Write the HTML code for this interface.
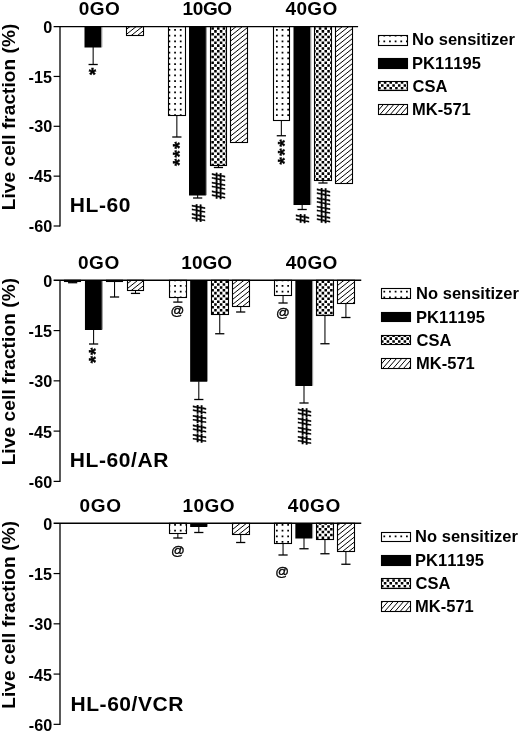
<!DOCTYPE html>
<html><head><meta charset="utf-8"><title>chart</title>
<style>
html,body{margin:0;padding:0;background:#fff;}
svg{display:block;filter:grayscale(1) blur(0.4px);}
text{font-family:"Liberation Sans",sans-serif;fill:#000;font-kerning:none;white-space:pre;}
.b{font-weight:bold;}
.s{stroke:#000;stroke-width:0.35px;}
</style></head><body>
<svg width="520" height="732" viewBox="0 0 520 732">
<defs>
<clipPath id="cd"><rect x="168.5" y="26.6" width="17" height="88.9"/><rect x="273.5" y="26.6" width="16" height="93.9"/><rect x="378.5" y="35.5" width="29" height="10"/><rect x="64.5" y="280.3" width="16" height="1.2"/><rect x="169.5" y="280.3" width="17" height="17.2"/><rect x="274.5" y="280.3" width="17" height="15.2"/><rect x="381.5" y="288.5" width="29" height="10"/><rect x="169.5" y="523.3" width="17" height="10.2"/><rect x="274.5" y="523.3" width="17" height="20.2"/><rect x="381.5" y="532.5" width="29" height="9"/></clipPath>
<clipPath id="cc"><rect x="210.5" y="26.6" width="16" height="138.9"/><rect x="314.5" y="26.6" width="17" height="153.9"/><rect x="378.5" y="81.5" width="29" height="9"/><rect x="106.5" y="280.3" width="16" height="1.2"/><rect x="211.5" y="280.3" width="17" height="34.2"/><rect x="316.5" y="280.3" width="17" height="35.2"/><rect x="381.5" y="335.5" width="29" height="9"/><rect x="316.5" y="523.3" width="17" height="16.2"/><rect x="381.5" y="578.5" width="29" height="10"/></clipPath>
<clipPath id="ch"><rect x="126.5" y="26.6" width="17" height="8.9"/><rect x="230.5" y="26.6" width="17" height="115.9"/><rect x="335.5" y="26.6" width="17" height="156.9"/><rect x="127.5" y="280.3" width="16" height="10.2"/><rect x="232.5" y="280.3" width="17" height="26.2"/><rect x="337.5" y="280.3" width="17" height="23.2"/><rect x="232.5" y="523.3" width="17" height="11.2"/><rect x="337.5" y="523.3" width="17" height="28.2"/></clipPath>
<clipPath id="cl"><rect x="378.5" y="104.5" width="29" height="10"/><rect x="381.5" y="358.5" width="29" height="10"/><rect x="381.5" y="601.5" width="29" height="10"/></clipPath>
</defs>
<rect width="520" height="732" fill="#fff"/>

<text x="43.15" y="32.65" font-size="16.2" class="b">0</text>
<path d="M53.6,76.45 H60" stroke="#000" stroke-width="1.2" fill="none"/>
<text x="28.54" y="82.5" font-size="16.2" class="b">-15</text>
<path d="M53.6,126.3 H60" stroke="#000" stroke-width="1.2" fill="none"/>
<text x="28.75" y="132.35" font-size="16.2" class="b">-30</text>
<path d="M53.6,176.15 H60" stroke="#000" stroke-width="1.2" fill="none"/>
<text x="28.54" y="182.2" font-size="16.2" class="b">-45</text>
<path d="M53.6,226 H60" stroke="#000" stroke-width="1.2" fill="none"/>
<text x="28.75" y="232.05" font-size="16.2" class="b">-60</text>
<text transform="translate(15.3 210.17) rotate(-90)" font-size="19" class="b" letter-spacing="0.08">Live cell fraction (%)</text>
<text x="78.75" y="15.3" font-size="19" class="b" letter-spacing="0.46">0GO</text>
<text x="182.55" y="15.3" font-size="19" class="b" letter-spacing="-0.4">10GO</text>
<text x="285.51" y="15.3" font-size="19" class="b" letter-spacing="0.36">40GO</text>
<text x="69.85" y="212" font-size="21" class="b" letter-spacing="0.54">HL-60</text>
<path d="M93.15,47V64.5" stroke="#000" stroke-width="1.05" fill="none"/><path d="M88.55,64.5H97.75" stroke="#000" stroke-width="1.3" fill="none"/>
<path d="M176.85,115V137" stroke="#000" stroke-width="1.05" fill="none"/><path d="M172.25,137H181.45" stroke="#000" stroke-width="1.3" fill="none"/>
<path d="M197.65,195V198" stroke="#000" stroke-width="1.05" fill="none"/><path d="M193.05,198H202.25" stroke="#000" stroke-width="1.3" fill="none"/>
<path d="M218.45,165V167.5" stroke="#000" stroke-width="1.05" fill="none"/><path d="M213.85,167.5H223.05" stroke="#000" stroke-width="1.3" fill="none"/>
<path d="M281.35,120.5V135.75" stroke="#000" stroke-width="1.05" fill="none"/><path d="M276.75,135.75H285.95" stroke="#000" stroke-width="1.3" fill="none"/>
<path d="M302.15,204.5V209.5" stroke="#000" stroke-width="1.05" fill="none"/><path d="M297.55,209.5H306.75" stroke="#000" stroke-width="1.3" fill="none"/>
<path d="M322.95,180.5V183" stroke="#000" stroke-width="1.05" fill="none"/><path d="M318.35,183H327.55" stroke="#000" stroke-width="1.3" fill="none"/>
<text x="88.78" y="80.84" font-size="19" class="b s">*</text>
<text transform="translate(185.84 166.06) rotate(-90)" font-size="19" class="b s" letter-spacing="1.1">***</text>
<text transform="translate(205.04 222.09) rotate(-90) scale(1 1.13)" font-size="17" class="b s" letter-spacing="-0.84">##</text>
<text transform="translate(224.74 199.19) rotate(-90) scale(1 1.13)" font-size="17" class="b s" letter-spacing="-0.8">###</text>
<text transform="translate(290.54 164.56) rotate(-90)" font-size="19" class="b s" letter-spacing="1.45">***</text>
<text transform="translate(309.04 223.29) rotate(-90) scale(1 1.13)" font-size="17" class="b s">#</text>
<text transform="translate(330.04 223.29) rotate(-90) scale(1 1.13)" font-size="17" class="b s" letter-spacing="-0.75">####</text>
<text x="412.1" y="45.4" font-size="16.5" class="b" letter-spacing="0.01">No sensitizer</text>
<text x="412.1" y="68.5" font-size="16.5" class="b">PK11195</text>
<text x="412.52" y="91.5" font-size="16.5" class="b">CSA</text>
<text x="412.1" y="114.6" font-size="16.5" class="b">MK-571</text>
<text x="43.15" y="286.85" font-size="16.2" class="b">0</text>
<path d="M53.6,330.57 H60" stroke="#000" stroke-width="1.2" fill="none"/>
<text x="28.54" y="337.12" font-size="16.2" class="b">-15</text>
<path d="M53.6,380.84 H60" stroke="#000" stroke-width="1.2" fill="none"/>
<text x="28.75" y="387.39" font-size="16.2" class="b">-30</text>
<path d="M53.6,431.11 H60" stroke="#000" stroke-width="1.2" fill="none"/>
<text x="28.54" y="437.66" font-size="16.2" class="b">-45</text>
<path d="M53.6,481.38 H60" stroke="#000" stroke-width="1.2" fill="none"/>
<text x="28.75" y="487.93" font-size="16.2" class="b">-60</text>
<text transform="translate(15.4 465.37) rotate(-90)" font-size="19" class="b" letter-spacing="0.13">Live cell fraction (%)</text>
<text x="77.9" y="269" font-size="19" class="b" letter-spacing="0.64">0GO</text>
<text x="181.3" y="269" font-size="19" class="b" letter-spacing="0.02">10GO</text>
<text x="285.71" y="269" font-size="19" class="b" letter-spacing="0.3">40GO</text>
<text x="69.85" y="467" font-size="21" class="b" letter-spacing="0.58">HL-60/AR</text>
<path d="M72.65,281.6V282.7" stroke="#000" stroke-width="1.05" fill="none"/><path d="M68.05,282.7H77.25" stroke="#000" stroke-width="1.3" fill="none"/>
<path d="M93.6,329.5V344" stroke="#000" stroke-width="1.05" fill="none"/><path d="M89,344H98.2" stroke="#000" stroke-width="1.3" fill="none"/>
<path d="M114.55,281.6V297" stroke="#000" stroke-width="1.05" fill="none"/><path d="M109.95,297H119.15" stroke="#000" stroke-width="1.3" fill="none"/>
<path d="M135.5,290.2V293.4" stroke="#000" stroke-width="1.05" fill="none"/><path d="M130.9,293.4H140.1" stroke="#000" stroke-width="1.3" fill="none"/>
<path d="M177.85,297.9V302.1" stroke="#000" stroke-width="1.05" fill="none"/><path d="M173.25,302.1H182.45" stroke="#000" stroke-width="1.3" fill="none"/>
<path d="M198.8,381.25V399.5" stroke="#000" stroke-width="1.05" fill="none"/><path d="M194.2,399.5H203.4" stroke="#000" stroke-width="1.3" fill="none"/>
<path d="M219.75,314.5V333.75" stroke="#000" stroke-width="1.05" fill="none"/><path d="M215.15,333.75H224.35" stroke="#000" stroke-width="1.3" fill="none"/>
<path d="M240.7,306.25V312" stroke="#000" stroke-width="1.05" fill="none"/><path d="M236.1,312H245.3" stroke="#000" stroke-width="1.3" fill="none"/>
<path d="M283.05,295V303" stroke="#000" stroke-width="1.05" fill="none"/><path d="M278.45,303H287.65" stroke="#000" stroke-width="1.3" fill="none"/>
<path d="M304,385.5V403" stroke="#000" stroke-width="1.05" fill="none"/><path d="M299.4,403H308.6" stroke="#000" stroke-width="1.3" fill="none"/>
<path d="M324.95,315.5V343.75" stroke="#000" stroke-width="1.05" fill="none"/><path d="M320.35,343.75H329.55" stroke="#000" stroke-width="1.3" fill="none"/>
<path d="M345.9,303.75V317.5" stroke="#000" stroke-width="1.05" fill="none"/><path d="M341.3,317.5H350.5" stroke="#000" stroke-width="1.3" fill="none"/>
<text transform="translate(101.54 363.26) rotate(-90)" font-size="19" class="b s" letter-spacing="0.79">**</text>
<text x="170.45" y="315.09" font-size="13.6" class="s">@</text>
<text x="275.95" y="317.29" font-size="13.6" class="s">@</text>
<text transform="translate(206.14 442.79) rotate(-90) scale(1 1.13)" font-size="17" class="b s" letter-spacing="0.08">####</text>
<text transform="translate(311.14 444.79) rotate(-90) scale(1 1.13)" font-size="17" class="b s" letter-spacing="-0.25">####</text>
<text x="416.1" y="299.4" font-size="16.5" class="b" letter-spacing="0.01">No sensitizer</text>
<text x="416.1" y="322.6" font-size="16.5" class="b">PK11195</text>
<text x="416.52" y="345.7" font-size="16.5" class="b">CSA</text>
<text x="416.1" y="369" font-size="16.5" class="b">MK-571</text>
<text x="43.15" y="529.9" font-size="16.2" class="b">0</text>
<path d="M53.6,573.56 H60" stroke="#000" stroke-width="1.2" fill="none"/>
<text x="28.54" y="580.16" font-size="16.2" class="b">-15</text>
<path d="M53.6,623.82 H60" stroke="#000" stroke-width="1.2" fill="none"/>
<text x="28.75" y="630.42" font-size="16.2" class="b">-30</text>
<path d="M53.6,674.08 H60" stroke="#000" stroke-width="1.2" fill="none"/>
<text x="28.54" y="680.68" font-size="16.2" class="b">-45</text>
<path d="M53.6,724.34 H60" stroke="#000" stroke-width="1.2" fill="none"/>
<text x="28.75" y="730.94" font-size="16.2" class="b">-60</text>
<text transform="translate(15.2 708.87) rotate(-90)" font-size="19" class="b" letter-spacing="0.15">Live cell fraction (%)</text>
<text x="79.4" y="511.8" font-size="19" class="b" letter-spacing="0.74">0GO</text>
<text x="182.55" y="511.8" font-size="19" class="b" letter-spacing="0.43">10GO</text>
<text x="287.71" y="511.8" font-size="19" class="b" letter-spacing="0.63">40GO</text>
<text x="70.5" y="710.5" font-size="21" class="b" letter-spacing="0.55">HL-60/VCR</text>
<path d="M177.85,533.75V538" stroke="#000" stroke-width="1.05" fill="none"/><path d="M173.25,538H182.45" stroke="#000" stroke-width="1.3" fill="none"/>
<path d="M198.8,526.5V532.5" stroke="#000" stroke-width="1.05" fill="none"/><path d="M194.2,532.5H203.4" stroke="#000" stroke-width="1.3" fill="none"/>
<path d="M240.7,534.5V542.5" stroke="#000" stroke-width="1.05" fill="none"/><path d="M236.1,542.5H245.3" stroke="#000" stroke-width="1.3" fill="none"/>
<path d="M283.05,543V555" stroke="#000" stroke-width="1.05" fill="none"/><path d="M278.45,555H287.65" stroke="#000" stroke-width="1.3" fill="none"/>
<path d="M304,538V548.75" stroke="#000" stroke-width="1.05" fill="none"/><path d="M299.4,548.75H308.6" stroke="#000" stroke-width="1.3" fill="none"/>
<path d="M324.95,539.5V553.75" stroke="#000" stroke-width="1.05" fill="none"/><path d="M320.35,553.75H329.55" stroke="#000" stroke-width="1.3" fill="none"/>
<path d="M345.9,551.25V564.25" stroke="#000" stroke-width="1.05" fill="none"/><path d="M341.3,564.25H350.5" stroke="#000" stroke-width="1.3" fill="none"/>
<text x="171.05" y="554.89" font-size="13.6" class="s">@</text>
<text x="275.25" y="576.19" font-size="13.6" class="s">@</text>
<text x="415.1" y="542.4" font-size="16.5" class="b" letter-spacing="0.01">No sensitizer</text>
<text x="415.1" y="565.5" font-size="16.5" class="b">PK11195</text>
<text x="415.52" y="588.5" font-size="16.5" class="b">CSA</text>
<text x="415.1" y="611.6" font-size="16.5" class="b">MK-571</text>
<rect x="84.5" y="26.6" width="16.9" height="20.9" fill="#000"/>
<rect x="189" y="26.6" width="16.9" height="168.9" fill="#000"/>
<rect x="293.5" y="26.6" width="16.9" height="178.4" fill="#000"/>
<rect x="378.5" y="58.5" width="29" height="10" fill="#000"/>
<rect x="84.95" y="280.3" width="16.9" height="49.7" fill="#000"/>
<rect x="190.15" y="280.3" width="16.9" height="101.45" fill="#000"/>
<rect x="295.35" y="280.3" width="16.9" height="105.7" fill="#000"/>
<rect x="381.5" y="312.5" width="29" height="9" fill="#000"/>
<rect x="190.15" y="523.3" width="16.9" height="3.7" fill="#000"/>
<rect x="295.35" y="523.3" width="16.9" height="15.2" fill="#000"/>
<rect x="381.5" y="555.5" width="29" height="10" fill="#000"/>
<g clip-path="url(#cd)"><path d="M56.3,0.57V732M61.95,0.57V732M67.61,0.57V732M73.26,0.57V732M78.92,0.57V732M84.57,0.57V732M90.23,0.57V732M95.88,0.57V732M101.54,0.57V732M107.19,0.57V732M112.85,0.57V732M118.5,0.57V732M124.16,0.57V732M129.81,0.57V732M135.47,0.57V732M141.12,0.57V732M146.78,0.57V732M152.43,0.57V732M158.09,0.57V732M163.74,0.57V732M169.4,0.57V732M175.05,0.57V732M180.71,0.57V732M186.36,0.57V732M192.02,0.57V732M197.67,0.57V732M203.33,0.57V732M208.98,0.57V732M214.64,0.57V732M220.29,0.57V732M225.95,0.57V732M231.6,0.57V732M237.26,0.57V732M242.91,0.57V732M248.57,0.57V732M254.22,0.57V732M259.88,0.57V732M265.53,0.57V732M271.19,0.57V732M276.84,0.57V732M282.5,0.57V732M288.15,0.57V732M293.81,0.57V732M299.46,0.57V732M305.12,0.57V732M310.77,0.57V732M316.43,0.57V732M322.08,0.57V732M327.74,0.57V732M333.39,0.57V732M339.05,0.57V732M344.7,0.57V732M350.36,0.57V732M356.01,0.57V732M361.67,0.57V732M367.32,0.57V732M372.97,0.57V732M378.63,0.57V732M384.28,0.57V732M389.94,0.57V732M395.59,0.57V732M401.25,0.57V732M406.9,0.57V732M412.56,0.57V732M418.21,0.57V732" stroke="#000" stroke-width="1.75" stroke-dasharray="1.75 3.94" fill="none"/></g>
<g clip-path="url(#cc)"><path d="M59.93,-1.19V732M62.76,1.65V732M65.59,-1.19V732M68.42,1.65V732M71.24,-1.19V732M74.07,1.65V732M76.9,-1.19V732M79.73,1.65V732M82.55,-1.19V732M85.38,1.65V732M88.21,-1.19V732M91.04,1.65V732M93.86,-1.19V732M96.69,1.65V732M99.52,-1.19V732M102.35,1.65V732M105.17,-1.19V732M108,1.65V732M110.83,-1.19V732M113.66,1.65V732M116.48,-1.19V732M119.31,1.65V732M122.14,-1.19V732M124.97,1.65V732M127.79,-1.19V732M130.62,1.65V732M133.45,-1.19V732M136.28,1.65V732M139.1,-1.19V732M141.93,1.65V732M144.76,-1.19V732M147.59,1.65V732M150.41,-1.19V732M153.24,1.65V732M156.07,-1.19V732M158.9,1.65V732M161.72,-1.19V732M164.55,1.65V732M167.38,-1.19V732M170.21,1.65V732M173.03,-1.19V732M175.86,1.65V732M178.69,-1.19V732M181.52,1.65V732M184.34,-1.19V732M187.17,1.65V732M190,-1.19V732M192.83,1.65V732M195.65,-1.19V732M198.48,1.65V732M201.31,-1.19V732M204.14,1.65V732M206.96,-1.19V732M209.79,1.65V732M212.62,-1.19V732M215.45,1.65V732M218.27,-1.19V732M221.1,1.65V732M223.93,-1.19V732M226.76,1.65V732M229.58,-1.19V732M232.41,1.65V732M235.24,-1.19V732M238.07,1.65V732M240.89,-1.19V732M243.72,1.65V732M246.55,-1.19V732M249.38,1.65V732M252.2,-1.19V732M255.03,1.65V732M257.86,-1.19V732M260.69,1.65V732M263.51,-1.19V732M266.34,1.65V732M269.17,-1.19V732M272,1.65V732M274.82,-1.19V732M277.65,1.65V732M280.48,-1.19V732M283.31,1.65V732M286.13,-1.19V732M288.96,1.65V732M291.79,-1.19V732M294.62,1.65V732M297.44,-1.19V732M300.27,1.65V732M303.1,-1.19V732M305.93,1.65V732M308.75,-1.19V732M311.58,1.65V732M314.41,-1.19V732M317.24,1.65V732M320.06,-1.19V732M322.89,1.65V732M325.72,-1.19V732M328.55,1.65V732M331.37,-1.19V732M334.2,1.65V732M337.03,-1.19V732M339.86,1.65V732M342.68,-1.19V732M345.51,1.65V732M348.34,-1.19V732M351.17,1.65V732M353.99,-1.19V732M356.82,1.65V732M359.65,-1.19V732M362.48,1.65V732M365.3,-1.19V732M368.13,1.65V732M370.96,-1.19V732M373.79,1.65V732M376.61,-1.19V732M379.44,1.65V732M382.27,-1.19V732M385.1,1.65V732M387.92,-1.19V732M390.75,1.65V732M393.58,-1.19V732M396.41,1.65V732M399.23,-1.19V732M402.06,1.65V732M404.89,-1.19V732M407.72,1.65V732M410.54,-1.19V732M413.37,1.65V732M416.2,-1.19V732M419.03,1.65V732" stroke="#000" stroke-width="2.55" stroke-dasharray="2.55 3.14" fill="none"/></g>
<g clip-path="url(#ch)"><path d="M60,-7.5L415,-291.5M60,-2.5L415,-286.5M60,2.5L415,-281.5M60,7.5L415,-276.5M60,12.5L415,-271.5M60,17.5L415,-266.5M60,22.5L415,-261.5M60,27.5L415,-256.5M60,32.5L415,-251.5M60,37.5L415,-246.5M60,42.5L415,-241.5M60,47.5L415,-236.5M60,52.5L415,-231.5M60,57.5L415,-226.5M60,62.5L415,-221.5M60,67.5L415,-216.5M60,72.5L415,-211.5M60,77.5L415,-206.5M60,82.5L415,-201.5M60,87.5L415,-196.5M60,92.5L415,-191.5M60,97.5L415,-186.5M60,102.5L415,-181.5M60,107.5L415,-176.5M60,112.5L415,-171.5M60,117.5L415,-166.5M60,122.5L415,-161.5M60,127.5L415,-156.5M60,132.5L415,-151.5M60,137.5L415,-146.5M60,142.5L415,-141.5M60,147.5L415,-136.5M60,152.5L415,-131.5M60,157.5L415,-126.5M60,162.5L415,-121.5M60,167.5L415,-116.5M60,172.5L415,-111.5M60,177.5L415,-106.5M60,182.5L415,-101.5M60,187.5L415,-96.5M60,192.5L415,-91.5M60,197.5L415,-86.5M60,202.5L415,-81.5M60,207.5L415,-76.5M60,212.5L415,-71.5M60,217.5L415,-66.5M60,222.5L415,-61.5M60,227.5L415,-56.5M60,232.5L415,-51.5M60,237.5L415,-46.5M60,242.5L415,-41.5M60,247.5L415,-36.5M60,252.5L415,-31.5M60,257.5L415,-26.5M60,262.5L415,-21.5M60,267.5L415,-16.5M60,272.5L415,-11.5M60,277.5L415,-6.5M60,282.5L415,-1.5M60,287.5L415,3.5M60,292.5L415,8.5M60,297.5L415,13.5M60,302.5L415,18.5M60,307.5L415,23.5M60,312.5L415,28.5M60,317.5L415,33.5M60,322.5L415,38.5M60,327.5L415,43.5M60,332.5L415,48.5M60,337.5L415,53.5M60,342.5L415,58.5M60,347.5L415,63.5M60,352.5L415,68.5M60,357.5L415,73.5M60,362.5L415,78.5M60,367.5L415,83.5M60,372.5L415,88.5M60,377.5L415,93.5M60,382.5L415,98.5M60,387.5L415,103.5M60,392.5L415,108.5M60,397.5L415,113.5M60,402.5L415,118.5M60,407.5L415,123.5M60,412.5L415,128.5M60,417.5L415,133.5M60,422.5L415,138.5M60,427.5L415,143.5M60,432.5L415,148.5M60,437.5L415,153.5M60,442.5L415,158.5M60,447.5L415,163.5M60,452.5L415,168.5M60,457.5L415,173.5M60,462.5L415,178.5M60,467.5L415,183.5M60,472.5L415,188.5M60,477.5L415,193.5M60,482.5L415,198.5M60,487.5L415,203.5M60,492.5L415,208.5M60,497.5L415,213.5M60,502.5L415,218.5M60,507.5L415,223.5M60,512.5L415,228.5M60,517.5L415,233.5M60,522.5L415,238.5M60,527.5L415,243.5M60,532.5L415,248.5M60,537.5L415,253.5M60,542.5L415,258.5M60,547.5L415,263.5M60,552.5L415,268.5M60,557.5L415,273.5M60,562.5L415,278.5M60,567.5L415,283.5M60,572.5L415,288.5M60,577.5L415,293.5M60,582.5L415,298.5M60,587.5L415,303.5M60,592.5L415,308.5M60,597.5L415,313.5M60,602.5L415,318.5M60,607.5L415,323.5M60,612.5L415,328.5M60,617.5L415,333.5M60,622.5L415,338.5M60,627.5L415,343.5M60,632.5L415,348.5M60,637.5L415,353.5M60,642.5L415,358.5M60,647.5L415,363.5M60,652.5L415,368.5M60,657.5L415,373.5M60,662.5L415,378.5M60,667.5L415,383.5M60,672.5L415,388.5M60,677.5L415,393.5M60,682.5L415,398.5M60,687.5L415,403.5M60,692.5L415,408.5M60,697.5L415,413.5M60,702.5L415,418.5M60,707.5L415,423.5M60,712.5L415,428.5M60,717.5L415,433.5M60,722.5L415,438.5M60,727.5L415,443.5M60,732.5L415,448.5M60,737.5L415,453.5M60,742.5L415,458.5M60,747.5L415,463.5M60,752.5L415,468.5M60,757.5L415,473.5M60,762.5L415,478.5M60,767.5L415,483.5M60,772.5L415,488.5M60,777.5L415,493.5M60,782.5L415,498.5M60,787.5L415,503.5M60,792.5L415,508.5M60,797.5L415,513.5M60,802.5L415,518.5M60,807.5L415,523.5M60,812.5L415,528.5M60,817.5L415,533.5M60,822.5L415,538.5M60,827.5L415,543.5M60,832.5L415,548.5M60,837.5L415,553.5M60,842.5L415,558.5M60,847.5L415,563.5M60,852.5L415,568.5M60,857.5L415,573.5M60,862.5L415,578.5M60,867.5L415,583.5M60,872.5L415,588.5M60,877.5L415,593.5M60,882.5L415,598.5M60,887.5L415,603.5M60,892.5L415,608.5M60,897.5L415,613.5M60,902.5L415,618.5M60,907.5L415,623.5M60,912.5L415,628.5M60,917.5L415,633.5M60,922.5L415,638.5M60,927.5L415,643.5M60,932.5L415,648.5M60,937.5L415,653.5M60,942.5L415,658.5M60,947.5L415,663.5M60,952.5L415,668.5M60,957.5L415,673.5M60,962.5L415,678.5M60,967.5L415,683.5M60,972.5L415,688.5M60,977.5L415,693.5M60,982.5L415,698.5M60,987.5L415,703.5M60,992.5L415,708.5M60,997.5L415,713.5M60,1002.5L415,718.5M60,1007.5L415,723.5M60,1012.5L415,728.5M60,1017.5L415,733.5" stroke="#000" stroke-width="1" fill="none"/></g>
<g clip-path="url(#cl)"><path d="M377.5,105.31L408.5,69.66M377.5,111.3L408.5,75.64M377.5,117.28L408.5,81.62M377.5,123.26L408.5,87.61M377.5,129.24L408.5,93.59M377.5,135.21L408.5,99.56M377.5,141.19L408.5,105.54M377.5,147.18L408.5,111.52M377.5,153.16L408.5,117.5M380.5,359L411.5,323.35M380.5,364.98L411.5,329.33M380.5,370.96L411.5,335.31M380.5,376.94L411.5,341.3M380.5,382.93L411.5,347.28M380.5,388.91L411.5,353.26M380.5,394.89L411.5,359.24M380.5,400.86L411.5,365.21M380.5,406.84L411.5,371.19M380.5,598.2L411.5,562.56M380.5,604.18L411.5,568.54M380.5,610.16L411.5,574.52M380.5,616.14L411.5,580.49M380.5,622.12L411.5,586.47M380.5,628.1L411.5,592.45M380.5,634.08L411.5,598.43M380.5,640.06L411.5,604.41M380.5,646.04L411.5,610.39" stroke="#000" stroke-width="1" fill="none"/></g>
<rect x="101.4" y="26.6" width="0.9" height="20.6" fill="#888"/>
<rect x="126.5" y="26.6" width="17" height="8.9" fill="none" stroke="#000" stroke-width="1.1"/>
<rect x="168.5" y="26.6" width="17" height="88.9" fill="none" stroke="#000" stroke-width="1.1"/>
<rect x="205.9" y="26.6" width="0.9" height="168.6" fill="#888"/>
<rect x="210.5" y="26.6" width="16" height="138.9" fill="none" stroke="#000" stroke-width="1.1"/>
<rect x="230.5" y="26.6" width="17" height="115.9" fill="none" stroke="#000" stroke-width="1.1"/>
<rect x="273.5" y="26.6" width="16" height="93.9" fill="none" stroke="#000" stroke-width="1.1"/>
<rect x="310.4" y="26.6" width="0.9" height="178.1" fill="#888"/>
<rect x="314.5" y="26.6" width="17" height="153.9" fill="none" stroke="#000" stroke-width="1.1"/>
<rect x="335.5" y="26.6" width="17" height="156.9" fill="none" stroke="#000" stroke-width="1.1"/>
<rect x="378.5" y="35.5" width="29" height="10" fill="none" stroke="#000" stroke-width="1.1"/>
<rect x="378.5" y="58.5" width="29" height="10" fill="none" stroke="#000" stroke-width="1.1"/>
<rect x="378.5" y="81.5" width="29" height="9" fill="none" stroke="#000" stroke-width="1.1"/>
<rect x="378.5" y="104.5" width="29" height="10" fill="none" stroke="#000" stroke-width="1.1"/>
<rect x="64.5" y="280.3" width="16" height="1.2" fill="none" stroke="#000" stroke-width="1.1"/>
<rect x="101.85" y="280.3" width="0.9" height="49.4" fill="#888"/>
<rect x="106.5" y="280.3" width="16" height="1.2" fill="none" stroke="#000" stroke-width="1.1"/>
<rect x="127.5" y="280.3" width="16" height="10.2" fill="none" stroke="#000" stroke-width="1.1"/>
<rect x="169.5" y="280.3" width="17" height="17.2" fill="none" stroke="#000" stroke-width="1.1"/>
<rect x="207.05" y="280.3" width="0.9" height="101.15" fill="#888"/>
<rect x="211.5" y="280.3" width="17" height="34.2" fill="none" stroke="#000" stroke-width="1.1"/>
<rect x="232.5" y="280.3" width="17" height="26.2" fill="none" stroke="#000" stroke-width="1.1"/>
<rect x="274.5" y="280.3" width="17" height="15.2" fill="none" stroke="#000" stroke-width="1.1"/>
<rect x="312.25" y="280.3" width="0.9" height="105.4" fill="#888"/>
<rect x="316.5" y="280.3" width="17" height="35.2" fill="none" stroke="#000" stroke-width="1.1"/>
<rect x="337.5" y="280.3" width="17" height="23.2" fill="none" stroke="#000" stroke-width="1.1"/>
<rect x="381.5" y="288.5" width="29" height="10" fill="none" stroke="#000" stroke-width="1.1"/>
<rect x="381.5" y="312.5" width="29" height="9" fill="none" stroke="#000" stroke-width="1.1"/>
<rect x="381.5" y="335.5" width="29" height="9" fill="none" stroke="#000" stroke-width="1.1"/>
<rect x="381.5" y="358.5" width="29" height="10" fill="none" stroke="#000" stroke-width="1.1"/>
<rect x="169.5" y="523.3" width="17" height="10.2" fill="none" stroke="#000" stroke-width="1.1"/>
<rect x="207.05" y="523.3" width="0.9" height="3.4" fill="#888"/>
<rect x="232.5" y="523.3" width="17" height="11.2" fill="none" stroke="#000" stroke-width="1.1"/>
<rect x="274.5" y="523.3" width="17" height="20.2" fill="none" stroke="#000" stroke-width="1.1"/>
<rect x="312.25" y="523.3" width="0.9" height="14.9" fill="#888"/>
<rect x="316.5" y="523.3" width="17" height="16.2" fill="none" stroke="#000" stroke-width="1.1"/>
<rect x="337.5" y="523.3" width="17" height="28.2" fill="none" stroke="#000" stroke-width="1.1"/>
<rect x="381.5" y="532.5" width="29" height="9" fill="none" stroke="#000" stroke-width="1.1"/>
<rect x="381.5" y="555.5" width="29" height="10" fill="none" stroke="#000" stroke-width="1.1"/>
<rect x="381.5" y="578.5" width="29" height="10" fill="none" stroke="#000" stroke-width="1.1"/>
<rect x="381.5" y="601.5" width="29" height="10" fill="none" stroke="#000" stroke-width="1.1"/>
<path d="M60,26.6 V226.6" stroke="#000" stroke-width="1.3" fill="none"/>
<path d="M53.6,26.6 H358.1" stroke="#000" stroke-width="1.45" fill="none"/>
<path d="M60,280.3 V481.98" stroke="#000" stroke-width="1.3" fill="none"/>
<path d="M53.6,280.3 H361.25" stroke="#000" stroke-width="1.45" fill="none"/>
<path d="M60,523.3 V724.94" stroke="#000" stroke-width="1.3" fill="none"/>
<path d="M53.6,523.3 H361.25" stroke="#000" stroke-width="1.45" fill="none"/>
</svg></body></html>
